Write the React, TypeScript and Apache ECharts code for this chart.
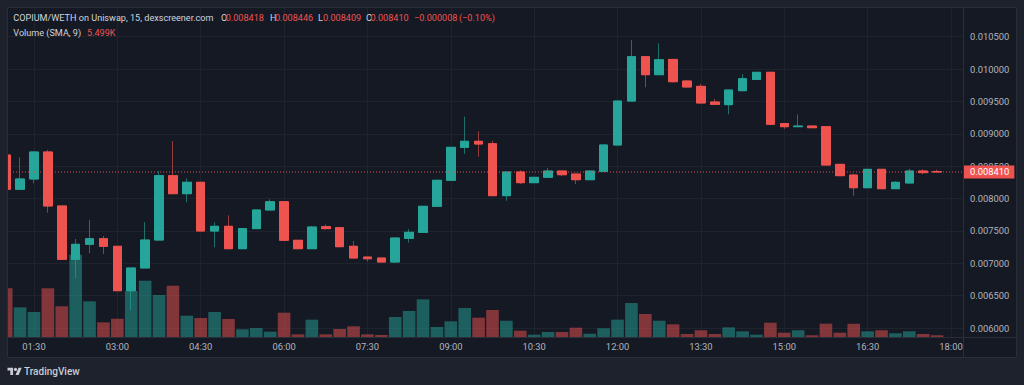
import { useEffect, useRef } from "react";
import * as echarts from "echarts";

const pairTitle = "COPIUM/WETH on Uniswap, 15, dexscreener.com";
const volumeTitle = "Volume (SMA, 9)";

const times = [
  "01:00","01:15","01:30","01:45","02:00","02:15","02:30","02:45","03:00","03:15",
  "03:30","03:45","04:00","04:15","04:30","04:45","05:00","05:15","05:30","05:45",
  "06:00","06:15","06:30","06:45","07:00","07:15","07:30","07:45","08:00","08:15",
  "08:30","08:45","09:00","09:15","09:30","09:45","10:00","10:15","10:30","10:45",
  "11:00","11:15","11:30","11:45","12:00","12:15","12:30","12:45","13:00","13:15",
  "13:30","13:45","14:00","14:15","14:30","14:45","15:00","15:15","15:30","15:45",
  "16:00","16:15","16:30","16:45","17:00","17:15","17:30","17:45",
];

const open = [
  0.008672,0.008143,0.008302,0.008719,0.007885,0.007061,0.007293,0.007379,0.007262,0.006576,
  0.006927,0.007359,0.008353,0.008075,0.008251,0.007498,0.007571,0.007225,0.007535,0.007823,
  0.007951,0.007355,0.007225,0.007565,0.007549,0.007262,0.007096,0.007081,0.007019,0.007385,
  0.007478,0.007880,0.008282,0.008791,0.008884,0.008847,0.008044,0.008410,0.008245,0.008328,
  0.008425,0.008379,0.008291,0.008420,0.008827,0.009506,0.010191,0.009913,0.010149,0.009815,
  0.009733,0.009491,0.009450,0.009666,0.009840,0.009950,0.009157,0.009110,0.009120,0.009110,
  0.008528,0.008363,0.008167,0.008451,0.008152,0.008240,0.008425,0.008418,
];
const close = [
  0.008143,0.008302,0.008719,0.007885,0.007061,0.007293,0.007379,0.007262,0.006576,0.006927,
  0.007359,0.008353,0.008075,0.008251,0.007498,0.007571,0.007225,0.007535,0.007823,0.007951,
  0.007355,0.007225,0.007560,0.007535,0.007256,0.007081,0.007070,0.007019,0.007390,0.007478,
  0.007880,0.008282,0.008791,0.008884,0.008842,0.008044,0.008410,0.008245,0.008328,0.008425,
  0.008368,0.008291,0.008425,0.008827,0.009506,0.010191,0.009913,0.010144,0.009805,0.009723,
  0.009476,0.009455,0.009676,0.009851,0.009950,0.009147,0.009110,0.009120,0.009094,0.008518,
  0.008353,0.008167,0.008451,0.008152,0.008251,0.008425,0.008400,0.008410,
];
const low = [
  0.008143,0.008143,0.008235,0.007781,0.007061,0.006768,0.007154,0.007143,0.006576,0.006278,
  0.006927,0.007359,0.008075,0.007942,0.007498,0.007247,0.007225,0.007225,0.007535,0.007823,
  0.007355,0.007225,0.007225,0.007520,0.007256,0.007081,0.007030,0.007019,0.007004,0.007318,
  0.007478,0.007880,0.008282,0.008688,0.008646,0.008044,0.007966,0.008224,0.008245,0.008328,
  0.008348,0.008224,0.008291,0.008420,0.008827,0.009506,0.009718,0.009913,0.009790,0.009723,
  0.009476,0.009455,0.009301,0.009666,0.009840,0.009147,0.009079,0.009110,0.009094,0.008518,
  0.008353,0.008044,0.008167,0.008152,0.008152,0.008240,0.008379,0.008409,
];
const high = [
  0.008672,0.008637,0.008730,0.008750,0.007885,0.007375,0.007668,0.007421,0.007262,0.006927,
  0.007637,0.008425,0.008889,0.008312,0.008251,0.007633,0.007741,0.007535,0.007823,0.007988,
  0.007951,0.007355,0.007575,0.007600,0.007549,0.007344,0.007096,0.007081,0.007390,0.007529,
  0.007880,0.008282,0.008791,0.009264,0.009038,0.008894,0.008410,0.008436,0.008328,0.008472,
  0.008425,0.008379,0.008425,0.008827,0.009506,0.010449,0.010191,0.010398,0.010149,0.009830,
  0.009769,0.009537,0.009676,0.009924,0.009950,0.009950,0.009157,0.009301,0.009120,0.009110,
  0.008528,0.008379,0.008451,0.008451,0.008266,0.008461,0.008451,0.008446,
];
// volume in thousands
const volume = [
  41.9,25.5,21.5,41.9,26.4,70.8,30.7,12.6,15.7,39.6,
  48.4,36.1,44.1,18.3,16.3,21.5,15.5,6.6,7.7,4.6,
  20.9,2.3,14.9,2.3,6.9,9.2,2.3,1.7,17.2,22.4,
  32.4,8.6,13.5,24.9,16.6,23.2,14.0,5.4,2.0,4.3,
  4.3,8.0,2.8,7.5,14.9,29.2,19.8,14.0,10.9,2.6,
  5.8,2.6,8.3,4.9,2.0,12.3,3.7,5.8,1.5,11.49,
  3.7,11.4,4.9,5.8,3.2,4.9,2.6,1.5,
];

const timeTicks = ["01:30","03:00","04:30","06:00","07:30","09:00","10:30","12:00","13:30","15:00","16:30","18:00"];
const priceMin = 0.006;
const priceMax = 0.0105;
const priceStep = 0.0005;
const smaLength = 9;

const UP = "#26a69a";
const DOWN = "#ef5350";
const WICK_UP = "rgba(38,166,154,0.6)";
const WICK_DOWN = "rgba(239,83,80,0.6)";
const VOL_UP = "rgba(38,166,154,0.5)";
const VOL_DOWN = "rgba(239,83,80,0.5)";
const TEXT = "#b2b5be";
const LEGEND = "#d1d4dc";
const GRIDLINE = "#1f232e";
const BORDER = "#2a2e39";
const BG_IN = "#151924";
const BG_OUT = "#1e222d";
const FONT = "Roboto, 'Liberation Sans', sans-serif";

const toMin = (t: string) => {
  const [h, m] = t.split(":").map(Number);
  return h * 60 + m;
};
const slotOf = (t: string) => (toMin(t) - toMin(times[0])) / 15;

const TV_PATH =
  "M14 22H7V11H0V4h14v18zM28 22h-8l7.5-18h8L28 22zM16 8a4 4 0 1 0 8 0a4 4 0 1 0 -8 0z";

export default function App() {
  const ref = useRef<HTMLDivElement>(null);
  useEffect(() => {
    if (!ref.current) return;
    try {
      echarts.graphic.registerShape("tvlogo", echarts.graphic.extendPath(TV_PATH, {}) as any);
    } catch (e) {}
    const chart = echarts.init(ref.current, null, { renderer: "svg" });

    const n = times.length;
    const last = n - 1;
    const tickSlots = timeTicks.map(slotOf);
    const xMin = 0.0576;
    const xMax = 68.864;
    const wicks = times.map((_, i) => [i, open[i], close[i], low[i], high[i]]);
    const bodies = times.map((_, i) => [
      i, open[i], close[i], Math.min(open[i], close[i]), Math.max(open[i], close[i]),
    ]);
    const vols = volume.map((v, i) => ({
      value: [i, v],
      itemStyle: { color: close[i] >= open[i] ? VOL_UP : VOL_DOWN },
    }));
    const sma = volume.slice(-smaLength).reduce((a, b) => a + b, 0) / smaLength;
    const minus = (s: string) => s.replace("-", "\u2212");
    const chg = close[last] - open[last];
    const pct = (chg / open[last]) * 100;

    const legendFont = `9.1px ${FONT}`;
    const lineY1 = 18;
    const lineY2 = 32.5;
    const seg = (x: number, y: number, text: string, fill: string) => ({
      type: "text",
      x,
      y,
      z: 100,
      silent: true,
      style: { text, fill, font: legendFont, verticalAlign: "middle", align: "left" },
    });

    const option: any = {
      animation: false,
      backgroundColor: BG_IN,
      grid: [
        { left: 7, right: 61, top: 36.7, height: 291.3, containLabel: false, outerBoundsMode: "none" },
        { left: 7, right: 61, top: 7, bottom: 48, containLabel: false, outerBoundsMode: "none" },
      ],
      xAxis: [
        { type: "value", gridIndex: 0, min: xMin, max: xMax, show: false },
        {
          type: "value",
          gridIndex: 1,
          min: xMin,
          max: xMax,
          axisLine: { show: false },
          axisTick: { show: false, customValues: tickSlots },
          axisLabel: {
            customValues: tickSlots,
            formatter: (v: number) => {
              const k = tickSlots.findIndex((s) => Math.abs(s - v) < 0.01);
              return k >= 0 ? timeTicks[k] : "";
            },
            color: TEXT,
            fontSize: 9.4,
            fontFamily: FONT,
            margin: 5,
          },
          splitLine: { show: true, lineStyle: { color: GRIDLINE, width: 1 } },
        },
      ],
      yAxis: [
        {
          type: "value",
          gridIndex: 0,
          position: "right",
          min: priceMin,
          max: priceMax,
          interval: priceStep,
          axisLine: { show: false },
          axisTick: { show: false },
          axisLabel: {
            formatter: (v: number) => v.toFixed(6),
            color: TEXT,
            fontSize: 9.4,
            fontFamily: FONT,
            margin: 7,
          },
          splitLine: { show: true, lineStyle: { color: GRIDLINE, width: 1 } },
        },
        { type: "value", gridIndex: 1, min: 0, max: 283.8, show: false },
      ],
      series: [
        {
          type: "bar",
          xAxisIndex: 1,
          yAxisIndex: 1,
          data: vols,
          barWidth: 12.6,
          z: 1,
          silent: true,
        },
        {
          type: "candlestick",
          xAxisIndex: 0,
          yAxisIndex: 0,
          data: wicks,
          barWidth: 9,
          z: 2,
          silent: true,
          itemStyle: {
            color: WICK_UP,
            color0: WICK_DOWN,
            borderColor: WICK_UP,
            borderColor0: WICK_DOWN,
            borderWidth: 1,
          },
        },
        {
          type: "candlestick",
          xAxisIndex: 0,
          yAxisIndex: 0,
          data: bodies,
          barWidth: 9,
          z: 3,
          silent: true,
          itemStyle: {
            color: UP,
            color0: DOWN,
            borderColor: UP,
            borderColor0: DOWN,
            borderWidth: 1,
          },
        },
        {
          type: "line",
          xAxisIndex: 0,
          yAxisIndex: 0,
          data: [[xMin, close[last]], [xMax, close[last]]],
          symbol: "none",
          silent: true,
          z: 4,
          clip: false,
          lineStyle: { color: DOWN, type: [1, 2], width: 1, opacity: 0.9 },
          endLabel: {
            show: true,
            distance: 0,
            formatter: () => close[last].toFixed(6),
            color: "#ffffff",
            backgroundColor: DOWN,
            fontSize: 9.4,
            fontFamily: FONT,
            lineHeight: 11,
            padding: [1, 5, 1, 7],
          },
        },
      ],
      graphic: [
        { type: "rect", z: 90, silent: true, shape: { x: 0, y: 0, width: 1024, height: 7 }, style: { fill: BG_OUT } },
        { type: "rect", z: 90, silent: true, shape: { x: 0, y: 0, width: 7, height: 385 }, style: { fill: BG_OUT } },
        { type: "rect", z: 90, silent: true, shape: { x: 1017, y: 0, width: 7, height: 385 }, style: { fill: BG_OUT } },
        { type: "rect", z: 90, silent: true, shape: { x: 0, y: 358, width: 1024, height: 27 }, style: { fill: BG_OUT } },
        { type: "rect", z: 91, silent: true, shape: { x: 7.5, y: 7.5, width: 1009, height: 350 }, style: { fill: "none", stroke: BORDER, lineWidth: 1 } },
        { type: "line", z: 91, silent: true, shape: { x1: 963.5, y1: 7, x2: 963.5, y2: 358 }, style: { stroke: BORDER, lineWidth: 1 } },
        { type: "line", z: 91, silent: true, shape: { x1: 7, y1: 337.5, x2: 1017, y2: 337.5 }, style: { stroke: BORDER, lineWidth: 1 } },
        seg(13.3, lineY1, pairTitle, LEGEND),
        seg(221, lineY1, "O", LEGEND),
        seg(225.7, lineY1, open[last].toFixed(6), DOWN),
        seg(270, lineY1, "H", LEGEND),
        seg(275, lineY1, high[last].toFixed(6), DOWN),
        seg(318, lineY1, "L", LEGEND),
        seg(323, lineY1, low[last].toFixed(6), DOWN),
        seg(366, lineY1, "C", LEGEND),
        seg(370.5, lineY1, close[last].toFixed(6), DOWN),
        seg(414, lineY1, minus(chg.toFixed(6)), DOWN),
        seg(459, lineY1, `(${minus(pct.toFixed(2))}%)`, DOWN),
        seg(13.3, lineY2, volumeTitle, LEGEND),
        seg(87, lineY2, `${sma.toFixed(3)}K`, DOWN),
        { type: "tvlogo", z: 100, silent: true, x: 7.5, y: 366.2, scaleX: 0.4, scaleY: 0.4, style: { fill: "#c9ccd4" } },
        {
          type: "text",
          z: 100,
          silent: true,
          x: 24,
          y: 371.5,
          style: { text: "TradingView", fill: "#c9ccd4", font: `500 10px ${FONT}`, verticalAlign: "middle", align: "left" },
        },
      ],
    };
    chart.setOption(option);
    return () => chart.dispose();
  }, []);

  return (
    <div
      ref={ref}
      style={{ position: "absolute", left: 0, top: 0, width: 1024, height: 385 }}
    />
  );
}
